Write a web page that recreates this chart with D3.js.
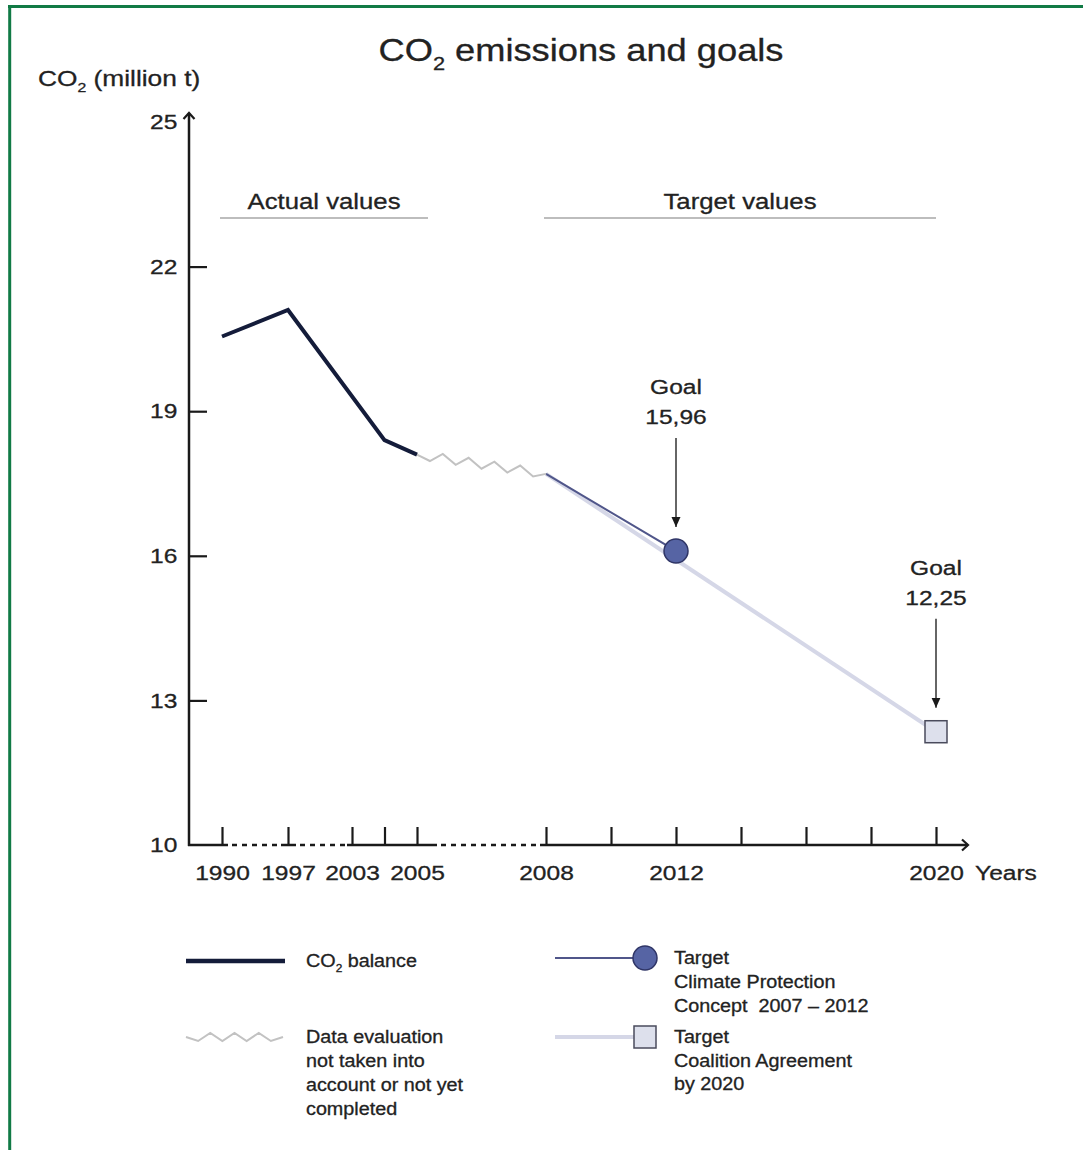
<!DOCTYPE html>
<html>

<head>
  <meta charset="utf-8">
  <style>
    body { margin: 0; background: #fff; }
    text { font-family: 'Liberation Sans', Arial, Helvetica, sans-serif; fill: #222; stroke: #222; stroke-width: 0.3px; }
  </style>
</head>

<body>
  <script src="https://d3js.org/d3.v7.min.js"></script>
  <script>
    // ---- data ----
    var co2Years = [1990, 1997, 2004, 2005];
    var co2Values = [20.55, 21.1, 18.4, 18.1];

    var gapYears = [2005, 2008];          // data evaluation not yet completed
    var gapValues = [18.1, 17.7];

    var climateYears = [2008, 2012];      // Climate Protection Concept 2007 - 2012
    var climateValues = [17.7, 16.1];

    var coalitionYears = [2008, 2020];    // Coalition Agreement by 2020
    var coalitionValues = [17.7, 12.35];

    var goalLabels = ["15,96", "12,25"];

    var yTicks = [10, 13, 16, 19, 22, 25];
    var xTicks = [1990, 1997, 2003, 2004, 2005, 2008, 2010, 2012, 2014, 2016, 2018, 2020];
    var xLabels = [1990, 1997, 2003, 2005, 2008, 2012, 2020];

    // ---- layout ----
    var width = 1083,
      height = 1150,
      SX = 1.17; // the original lettering is wide

    var svg = d3.select("body").append("svg")
      .attr("width", width)
      .attr("height", height);

    // the broken time axis: each section has its own spacing
    var x = d3.scaleLinear()
      .domain([1990, 1997, 2003, 2005, 2008, 2020])
      .range([222, 288, 352, 417, 546, 936]);

    var y = d3.scaleLinear()
      .domain([10, 25])
      .range([845, 122]);

    var axisX0 = 189;

    // parts: a string, or a list of {t, isSub}
    function label(parent, px, py, parts, size, anchor, sx) {
      var t = parent.append("text")
        .attr("transform", "translate(" + px + "," + py + ") scale(" + (sx || SX) + ",1)")
        .attr("text-anchor", anchor || "start")
        .style("font-size", size + "px");
      if (typeof parts === "string") parts = [{ t: parts }];
      var shifted = false;
      parts.forEach(function(p) {
        var s = t.append("tspan").text(p.t);
        if (p.isSub) {
          s.style("font-size", (size * 0.6) + "px").attr("dy", size * 0.28);
          shifted = true;
        } else if (shifted) {
          s.attr("dy", -size * 0.28);
          shifted = false;
        }
      });
      return t;
    }
    var co2 = [{ t: "CO" }, { t: "2", isSub: true }];

    // markers
    var defs = svg.append("defs");
    defs.append("marker")
      .attr("id", "chev")
      .attr("markerUnits", "userSpaceOnUse")
      .attr("viewBox", "-8 -8 16 16")
      .attr("markerWidth", 16).attr("markerHeight", 16)
      .attr("orient", "auto")
      .append("path")
      .attr("d", "M-6,-5.5 L0,0 L-6,5.5")
      .attr("fill", "none")
      .attr("stroke", "#1a1a1a")
      .attr("stroke-width", 2.2);
    defs.append("marker")
      .attr("id", "tri")
      .attr("markerUnits", "userSpaceOnUse")
      .attr("viewBox", "-10 -6 12 12")
      .attr("markerWidth", 12).attr("markerHeight", 12)
      .attr("orient", "auto")
      .append("path")
      .attr("d", "M-10,-4.5 L0,0 L-10,4.5 Z")
      .attr("fill", "#1a1a1a");

    // frame (top and left edge only)
    svg.append("line").attr("x1", 8).attr("x2", width).attr("y1", 6.5).attr("y2", 6.5)
      .attr("stroke", "#117a45").attr("stroke-width", 3);
    svg.append("line").attr("x1", 9.7).attr("x2", 9.7).attr("y1", 5).attr("y2", height)
      .attr("stroke", "#117a45").attr("stroke-width", 3);

    // titles
    label(svg, 581, 61, co2.concat([{ t: " emissions and goals" }]), 31, "middle");
    label(svg, 38, 86, co2.concat([{ t: " (million t)" }]), 22.5, "start");

    // section headers
    var sections = [
      { name: "Actual values", from: 1990, to: 2005, pad: 11 },
      { name: "Target values", from: 2008, to: 2020, pad: 0 }
    ];
    sections.forEach(function(s) {
      var x1 = x(s.from) - 2,
        x2 = x(s.to) + s.pad;
      svg.append("line")
        .attr("x1", x1).attr("x2", x2).attr("y1", 218).attr("y2", 218)
        .attr("stroke", "#bdbdbd").attr("stroke-width", 2);
      label(svg, (x1 + x2) / 2, 209, s.name, 22, "middle");
    });

    // y axis
    var yAxis = d3.axisLeft(y)
      .tickValues(yTicks)
      .tickSizeInner(-18)
      .tickSizeOuter(0)
      .tickPadding(10);
    var gy = svg.append("g")
      .attr("transform", "translate(" + axisX0 + ",0)")
      .call(yAxis);
    gy.select(".domain").remove();
    gy.selectAll(".tick line")
      .attr("stroke", "#1a1a1a").attr("stroke-width", 2.2)
      .filter(function(d) { return d === 10 || d === 25; }).remove();
    gy.selectAll(".tick text")
      .attr("transform", "scale(" + SX + ",1)")
      .style("font-size", "21px").attr("fill", "#222");
    svg.append("line")
      .attr("x1", axisX0).attr("x2", axisX0)
      .attr("y1", y(10) + 1).attr("y2", y(25) - 9)
      .attr("stroke", "#1a1a1a").attr("stroke-width", 2.5)
      .attr("marker-end", "url(#chev)");

    // x axis
    var xAxis = d3.axisBottom(x)
      .tickValues(xTicks)
      .tickSizeInner(-18)
      .tickSizeOuter(0)
      .tickPadding(20)
      .tickFormat(function(d) { return xLabels.indexOf(d) >= 0 ? d : ""; });
    var gx = svg.append("g")
      .attr("transform", "translate(0," + y(10) + ")")
      .call(xAxis);
    gx.select(".domain").remove();
    gx.selectAll(".tick line").attr("stroke", "#1a1a1a").attr("stroke-width", 2.2);
    gx.selectAll(".tick text")
      .attr("transform", "scale(" + SX + ",1)")
      .style("font-size", "21px").attr("fill", "#222");
    label(svg, 975, 880, "Years", 21, "start");

    // baseline: solid around the ticks, dotted where the time scale is broken
    var axisEnd = 968;
    var solid = [
      [axisX0 - 1, x(1990) + 6],
      [x(1997) - 7, x(1997) + 8],
      [x(2003) - 5, x(2005) + 20],
      [x(2008) - 6, axisEnd]
    ];
    solid.forEach(function(s, i) {
      svg.append("line")
        .attr("x1", s[0]).attr("x2", s[1]).attr("y1", y(10)).attr("y2", y(10))
        .attr("stroke", "#1a1a1a").attr("stroke-width", 2.5)
        .attr("marker-end", i === solid.length - 1 ? "url(#chev)" : null);
      if (i < solid.length - 1) {
        svg.append("line")
          .attr("x1", s[1] + 4).attr("x2", solid[i + 1][0] - 2)
          .attr("y1", y(10)).attr("y2", y(10))
          .attr("stroke", "#1a1a1a").attr("stroke-width", 2.5)
          .attr("stroke-dasharray", "5,5");
      }
    });

    // ---- series ----
    function pts(years, values) {
      return years.map(function(d, i) { return [x(d), y(values[i])]; });
    }
    var line = d3.line();

    // zigzag rendering for the not-yet-evaluated stretch
    function zigzag(a, b, half, amp) {
      var n = Math.max(2, Math.round((b[0] - a[0]) / half)),
        out = [a];
      for (var i = 1; i < n; i++) {
        var t = i / n;
        out.push([a[0] + (b[0] - a[0]) * t, a[1] + (b[1] - a[1]) * t + (i % 2 ? amp : -amp)]);
      }
      out.push(b);
      return out;
    }

    var coal = pts(coalitionYears, coalitionValues);
    svg.append("path")
      .attr("d", line(coal))
      .attr("fill", "none").attr("stroke", "#d5d7e7").attr("stroke-width", 4);

    var clim = pts(climateYears, climateValues);
    svg.append("path")
      .attr("d", line(clim))
      .attr("fill", "none").attr("stroke", "#50568a").attr("stroke-width", 2);

    var gap = pts(gapYears, gapValues);
    svg.append("path")
      .attr("d", line(zigzag(gap[0], gap[1], 12.5, 4.5)))
      .attr("fill", "none").attr("stroke", "#c2c2c2").attr("stroke-width", 2)
      .attr("stroke-linejoin", "miter");

    svg.append("path")
      .attr("d", line(pts(co2Years, co2Values)))
      .attr("fill", "none").attr("stroke", "#141c3a").attr("stroke-width", 4)
      .attr("stroke-linejoin", "miter");

    var cEnd = clim[clim.length - 1];
    svg.append("circle")
      .attr("cx", cEnd[0]).attr("cy", cEnd[1]).attr("r", 12)
      .attr("fill", "#5664a4").attr("stroke", "#2f3566").attr("stroke-width", 1.5);

    var sEnd = coal[coal.length - 1];
    svg.append("rect")
      .attr("x", sEnd[0] - 11).attr("y", sEnd[1] - 11).attr("width", 22).attr("height", 22)
      .attr("fill", "#dde0ec").attr("stroke", "#4a4b5c").attr("stroke-width", 1.5);

    // goal call-outs
    [[cEnd, goalLabels[0]], [sEnd, goalLabels[1]]].forEach(function(g) {
      var p = g[0],
        tip = p[1] - 24;
      label(svg, p[0], tip - 133, "Goal", 21, "middle");
      label(svg, p[0], tip - 103, g[1], 21, "middle");
      svg.append("line")
        .attr("x1", p[0]).attr("x2", p[0])
        .attr("y1", tip - 89).attr("y2", tip)
        .attr("stroke", "#333").attr("stroke-width", 1.5)
        .attr("marker-end", "url(#tri)");
    });

    // ---- legend ----
    var LSX = 1.13;
    var lg = svg.append("g");
    lg.append("line").attr("x1", 186).attr("x2", 285).attr("y1", 961).attr("y2", 961)
      .attr("stroke", "#141c3a").attr("stroke-width", 4.5);
    label(lg, 306, 967, co2.concat([{ t: " balance" }]), 17.5, "start", LSX);

    lg.append("path")
      .attr("d", line(zigzag([186, 1037], [283, 1037], 12, 4)))
      .attr("fill", "none").attr("stroke", "#c2c2c2").attr("stroke-width", 2);
    ["Data evaluation", "not taken into", "account or not yet", "completed"].forEach(function(s, i) {
      label(lg, 306, 1043 + i * 24, s, 17.5, "start", LSX);
    });

    lg.append("line").attr("x1", 555).attr("x2", 634).attr("y1", 958).attr("y2", 958)
      .attr("stroke", "#50568a").attr("stroke-width", 2);
    lg.append("circle").attr("cx", 645).attr("cy", 958).attr("r", 12)
      .attr("fill", "#5664a4").attr("stroke", "#2f3566").attr("stroke-width", 1.5);
    ["Target", "Climate Protection", "Concept  2007 \u2013 2012"].forEach(function(s, i) {
      label(lg, 674, 964 + i * 24, s, 17.5, "start", LSX).style("white-space", "pre");
    });

    lg.append("line").attr("x1", 555).attr("x2", 634).attr("y1", 1037).attr("y2", 1037)
      .attr("stroke", "#d5d7e7").attr("stroke-width", 4);
    lg.append("rect").attr("x", 634).attr("y", 1026).attr("width", 22).attr("height", 22)
      .attr("fill", "#dde0ec").attr("stroke", "#4a4b5c").attr("stroke-width", 1.5);
    ["Target", "Coalition Agreement", "by 2020"].forEach(function(s, i) {
      label(lg, 674, 1043 + i * 23.5, s, 17.5, "start", LSX);
    });
  </script>
</body>

</html>
